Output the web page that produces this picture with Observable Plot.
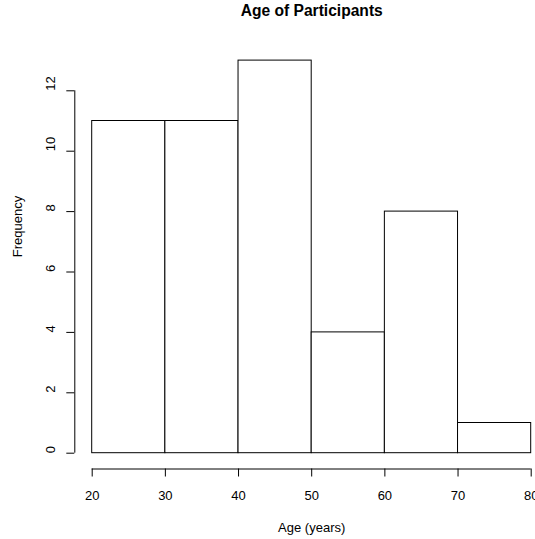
<!DOCTYPE html>
<html>
<head>
<meta charset="utf-8">
<script src="https://cdn.jsdelivr.net/npm/d3@7"></script>
<script src="https://cdn.jsdelivr.net/npm/@observablehq/plot@0.6"></script>
<style>
  html, body { margin: 0; padding: 0; background: #fff; overflow: hidden; }
  #chart svg { display: block; }
</style>
</head>
<body>
<div id="chart"></div>
<script>
const binStarts = [20, 30, 40, 50, 60, 70];
const binEnds = [30, 40, 50, 60, 70, 80];
const counts = [11, 11, 13, 4, 8, 1];
const xTicks = [20, 30, 40, 50, 60, 70, 80];
const yTicks = [0, 2, 4, 6, 8, 10, 12];
const titleText = "Age of Participants";
const xLabel = "Age (years)";
const yLabel = "Frequency";

const bins = binStarts.map((s, i) => ({start: s, end: binEnds[i], count: counts[i]}));

const W = 535, H = 539;
const mL = 91.7, mR = 4.3, mT = 90.3, mB = 86.3;
const font = "'Liberation Sans', Arial, Helvetica, sans-serif";

const chart = Plot.plot({
  width: W,
  height: H,
  marginLeft: mL,
  marginRight: mR,
  marginTop: mT,
  marginBottom: mB,
  style: {fontFamily: font, background: "white", overflow: "hidden"},
  x: {domain: [20, 80], range: [mL, W - mR]},
  y: {domain: [0, 12], range: [H - mB, mT]},
  marks: [
    Plot.rectY(bins, {x1: "start", x2: "end", y1: 0, y2: "count", fill: "white", stroke: "black", strokeWidth: 1}),
    // y axis
    Plot.ruleX([20], {y1: 0, y2: 12, dx: -17.4, stroke: "black"}),
    Plot.axisY({ticks: yTicks, tickSize: 8, dx: -17.4, tickFormat: () => "", label: null, stroke: "black"}),
    Plot.text(yTicks, {y: d => d, text: d => String(d), frameAnchor: "left", dx: -37.2, rotate: -90, lineAnchor: "bottom", fontSize: 13, fill: "black"}),
    // x axis
    Plot.ruleY([0], {x1: 20, x2: 80, dy: 15.8, stroke: "black"}),
    Plot.axisX({ticks: xTicks, tickSize: 8, dy: 15.8, tickFormat: () => "", label: null, stroke: "black"}),
    Plot.text(xTicks, {x: d => d, text: d => String(d), frameAnchor: "bottom", dy: 46.6, lineAnchor: "bottom", fontSize: 13, fill: "black"}),
    // titles
    Plot.text([titleText], {frameAnchor: "top", dy: -74.8, lineAnchor: "bottom", fontSize: 15.6, fontWeight: "bold", fill: "black"}),
    Plot.text([xLabel], {frameAnchor: "bottom", dy: 79, lineAnchor: "bottom", fontSize: 13, fill: "black"}),
    Plot.text([yLabel], {frameAnchor: "left", dx: -70, dy: -14.8, rotate: -90, lineAnchor: "bottom", fontSize: 13, fill: "black"})
  ]
});
document.getElementById("chart").appendChild(chart);
</script>
</body>
</html>
